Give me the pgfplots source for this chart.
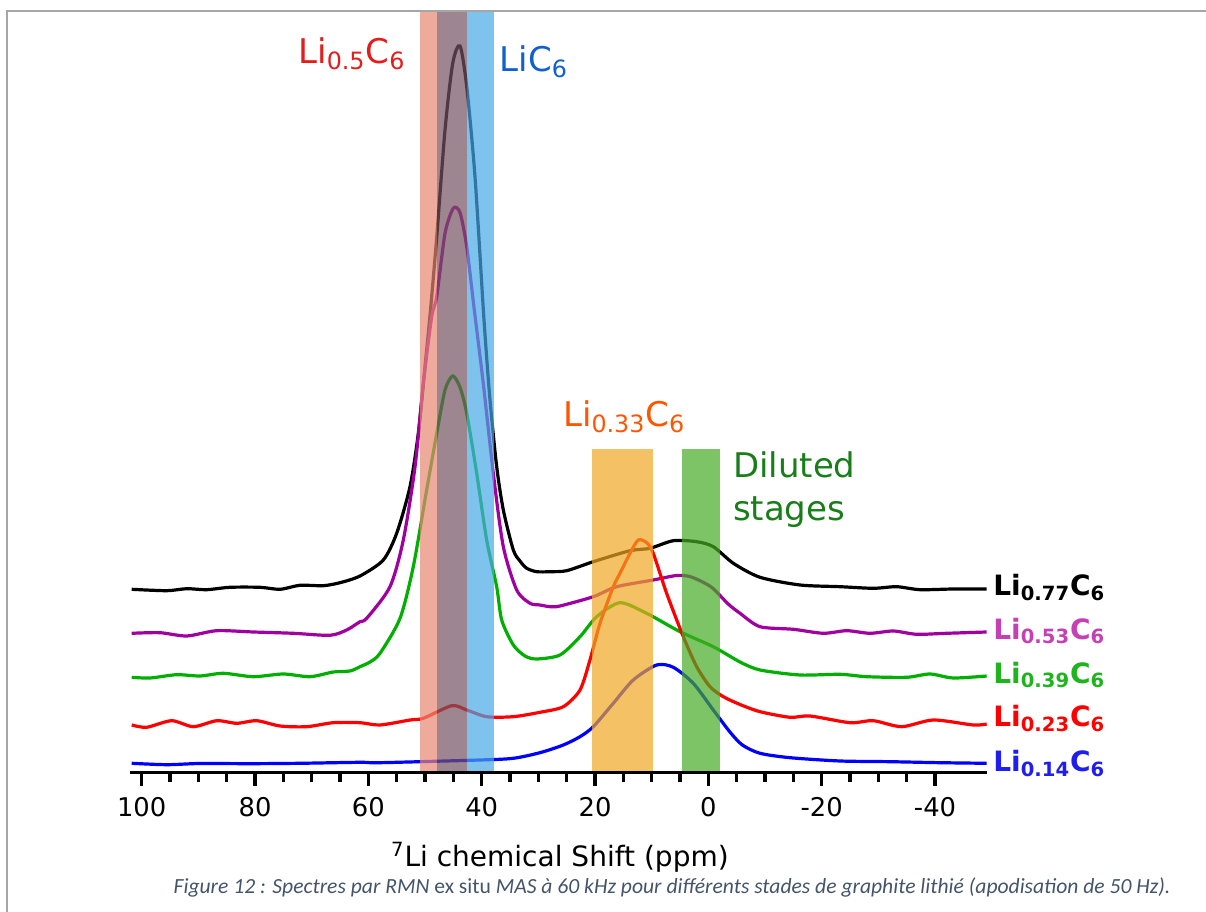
\documentclass[border=0pt]{standalone}
\usepackage{fontspec}
\setmainfont{DejaVu Sans}
\newfontfamily\calibri{Carlito}
\usepackage{pgfplots}
\pgfplotsset{compat=1.18}
\definecolor{salmonb}{RGB}{231,136,114}
\definecolor{mauveb}{RGB}{115,82,96}
\definecolor{blueb}{RGB}{71,169,231}
\definecolor{orangeb}{RGB}{239,168,34}
\definecolor{greenb}{RGB}{69,171,35}
\definecolor{cpurple}{RGB}{160,0,160}
\definecolor{cgreen}{RGB}{0,175,0}
\definecolor{lpurple}{RGB}{196,64,180}
\definecolor{lgreen}{RGB}{30,180,30}
\definecolor{lblue}{RGB}{30,30,240}
\definecolor{tred}{RGB}{228,28,28}
\definecolor{tblue}{RGB}{16,96,208}
\definecolor{torange}{RGB}{255,85,0}
\definecolor{tgreen}{RGB}{25,125,25}
\definecolor{capcol}{RGB}{68,84,106}
\definecolor{framec}{RGB}{166,166,166}
\begin{document}
\begin{tikzpicture}
\begin{axis}[
  scale only axis, width=428.35pt, height=381.15pt,
  xmin=-49.12, xmax=102.06, ymin=0, ymax=762.3,
  x dir=reverse,
  axis x line*=bottom, axis y line=none, ytick=\empty,
  clip=false, axis on top,
  xtick={-40,-20,0,20,40,60,80,100},
  xticklabels={-40,-20,0,20,40,60,80,100},
  minor x tick num=3,
  tick align=outside,
  major tick length=6.5pt, minor tick length=4.5pt,
  every tick/.style={black, line width=1.6pt},
  x axis line style={black, line width=1.5pt},
  xticklabel style={font=\fontsize{12.9}{15}\selectfont, anchor=north, inner sep=0pt, yshift=-5.6pt},
  every axis plot/.append style={line width=1.6pt, smooth, tension=0.45},
]
% spectra
\addplot[black] coordinates {(101.76,183.7) (95.58,182.3) (92.05,184.3) (88.52,183.3) (84.41,185.7) (79.12,185.7) (75.59,183.7) (72.06,187.7) (67.95,187.3) (65.0,190.3) (61.47,197) (57.36,213) (55.0,239.7) (52.65,286.3) (51.18,339.7) (50.0,406.3) (49.0,465) (47.93,536.3) (46.47,643) (45.11,709.7) (43.82,727) (42.64,686.3) (41.18,596.3) (39.59,453) (38.53,373) (37.35,306.3) (36.18,263) (34.42,223) (33.24,212) (32.05,204.7) (30.29,201.3) (27.94,201.3) (25.0,202.3) (20.30,211.3) (13.82,222.3) (10.29,224.7) (6.18,232.3) (2.06,231.3) (-0.88,226.3) (-4.41,209.7) (-9.12,195.7) (-16.18,188) (-23.24,186.3) (-29.12,184.7) (-33.24,186.3) (-37.35,183.3) (-43.23,184) (-49.12,184)};
\addplot[cpurple] coordinates {(101.76,139.7) (96.77,140.3) (92.05,137) (86.76,142.3) (80.31,141) (73.25,139.7) (66.77,137.7) (63.82,143) (61.47,151.3) (60.29,154.7) (56.18,186.3) (53.83,233) (51.76,306.3) (50.30,389.7) (48.82,456.3) (47.93,476.3) (46.47,539.7) (45.01,564.7) (43.82,560.3) (42.64,526.3) (41.3,463) (39.72,389.7) (37.95,299.7) (36.18,226.3) (33.82,183) (31.47,169.7) (29.71,168) (27.94,166.3) (26.18,167) (20.30,176.3) (16.17,186.3) (9.72,193) (5.59,197.5) (3.0,196) (-0.5,186) (-3.5,169) (-5.59,159.7) (-9.12,146.3) (-14.99,143.7) (-20.29,139.7) (-24.42,142.3) (-28.53,139.7) (-32.64,142) (-36.76,138.7) (-42.05,139.7) (-49.12,141)};
\addplot[cgreen] coordinates {(101.76,95.7) (98.53,95) (93.82,98.3) (89.71,97) (85.59,99.7) (80.31,96.3) (75.01,99) (70.30,96.3) (66.19,101) (63.24,102) (61.47,106.3) (59.71,111) (57.94,119.7) (54.41,154.7) (52.07,206.3) (49.71,283) (47.93,339.7) (46.47,383) (45.11,397) (43.82,385.7) (42.64,359.7) (40.88,299.7) (39.12,233) (37.35,186.3) (36.47,153) (34.42,128) (32.36,117) (30.29,114) (26.18,118) (22.65,136.3) (19.70,156.3) (15.60,170.3) (10.89,159.7) (5.0,141.3) (-0.87,126.3) (-5.59,111) (-9.12,103) (-16.18,98) (-23.24,98.7) (-27.94,96.3) (-35.0,95.7) (-39.11,99) (-43.23,95) (-49.12,97)};
\addplot[red] coordinates {(101.76,48) (99.12,45.7) (94.71,52.3) (90.89,46.3) (86.76,52.3) (83.23,49.7) (79.70,52.3) (75.59,47) (70.88,46.3) (66.19,50.3) (61.47,50.3) (57.94,48) (52.65,53) (50.30,54.7) (45.29,67.3) (42.64,63) (39.11,56.3) (34.42,56.3) (29.71,60.7) (25.60,66.3) (22.65,83) (20.89,113) (19.12,149.7) (16.77,186.3) (15.59,199.7) (13.83,219.7) (12.36,233) (10.88,230.3) (9.72,219.7) (7.36,179.7) (4.42,136.3) (2.06,106.3) (-0.29,86.3) (-2.64,76.3) (-5.59,68.5) (-9.12,61.3) (-14.41,55.7) (-17.94,57) (-24.99,50.3) (-29.11,52.3) (-34.12,46.3) (-39.70,53) (-46.76,48) (-49.12,49)};
\addplot[blue] coordinates {(101.76,9.7) (95.58,8.3) (89.71,9.5) (80.88,9.3) (72.06,9.7) (61.47,10.7) (57.94,10.3) (40.30,13) (34.42,14.7) (29.71,20.3) (25.60,28) (22.65,36.3) (20.30,46.3) (16.77,69.7) (13.25,93) (9.13,108) (6.19,105.7) (2.66,89.7) (-0.87,63) (-3.81,41) (-6.0,28) (-9.12,19.7) (-14.41,15.3) (-23.24,12) (-32.06,11.3) (-40.88,10.3) (-49.12,9.7)};
% bands
\addplot[draw=none, fill=salmonb, fill opacity=0.7, sharp plot] coordinates {(50.8,762.3) (47.8,762.3)} \closedcycle;
\addplot[draw=none, fill=mauveb, fill opacity=0.7, sharp plot] coordinates {(47.8,762.3) (42.6,762.3)} \closedcycle;
\addplot[draw=none, fill=blueb, fill opacity=0.7, sharp plot] coordinates {(42.6,762.3) (37.8,762.3)} \closedcycle;
\addplot[draw=none, fill=orangeb, fill opacity=0.7, sharp plot] coordinates {(20.6,323.7) (9.7,323.7)} \closedcycle;
\addplot[draw=none, fill=greenb, fill opacity=0.7, sharp plot] coordinates {(4.7,323.7) (-2.05,323.7)} \closedcycle;
% labels
\begin{scope}[every node/.style={anchor=base west, inner sep=0pt, font=\bfseries\fontsize{14}{16}\selectfont}]
\node[text=black] at (axis cs:-50.23,177) {Li\textsubscript{0.77}C\textsubscript{6}};
\node[text=lpurple] at (axis cs:-50.23,133.7) {Li\textsubscript{0.53}C\textsubscript{6}};
\node[text=lgreen] at (axis cs:-50.23,89.7) {Li\textsubscript{0.39}C\textsubscript{6}};
\node[text=red] at (axis cs:-50.23,46.3) {Li\textsubscript{0.23}C\textsubscript{6}};
\node[text=lblue] at (axis cs:-50.23,1.3) {Li\textsubscript{0.14}C\textsubscript{6}};
\end{scope}
\begin{scope}[every node/.style={anchor=base west, inner sep=0pt, font=\fontsize{17}{21.7}\selectfont}]
\node[text=tred] at (axis cs:72.42,709) {Li\textsubscript{0.5}C\textsubscript{6}};
\node[text=tblue] at (axis cs:36.89,701.3) {LiC\textsubscript{6}};
\node[text=torange] at (axis cs:25.70,346.3) {Li\textsubscript{0.33}C\textsubscript{6}};
\node[text=tgreen] at (axis cs:-4.29,295.7) {Diluted};
\node[text=tgreen] at (axis cs:-4.29,252.3) {stages};
\end{scope}
\node[anchor=base, inner sep=0pt, font=\fontsize{14}{16}\selectfont] at (axis cs:26.2,-93.7) {\textsuperscript{7}Li chemical Shift (ppm)};
\node[anchor=base, inner sep=0pt, text=capcol, font=\calibri\fontsize{10.8}{13}\selectfont] at (axis cs:6.4,-120.3) {\itshape Figure 12 : Spectres par RMN \upshape ex situ \itshape MAS à 60 kHz pour différents stades de graphite lithié (apodisation de 50~Hz).};
\draw[framec, line width=1pt] (axis cs:123.68,-139) -- (axis cs:123.68,762.3) -- (axis cs:-87.82,762.3);
\coordinate (bl) at (axis cs:125.005,-139);
\coordinate (tr) at (axis cs:-87.82,773);
\end{axis}
\pgfresetboundingbox
\path[use as bounding box] (bl) rectangle (tr);
\end{tikzpicture}
\end{document}
